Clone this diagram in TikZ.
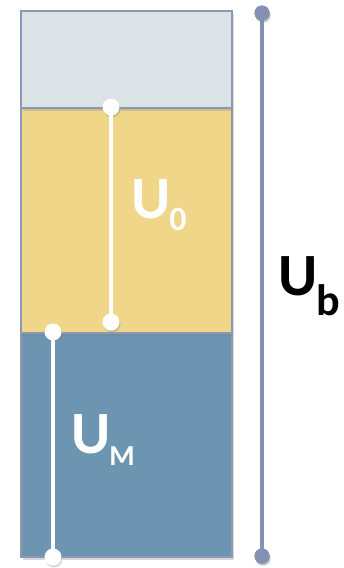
\documentclass[tikz,border=0pt]{standalone}
\usepackage{fontspec}
\setmainfont{Carlito}
\usetikzlibrary{shadows}
\definecolor{topfill}{RGB}{219,227,231}
\definecolor{midfill}{RGB}{240,214,137}
\definecolor{lowfill}{RGB}{109,149,178}
\definecolor{edge}{RGB}{140,152,182}
\definecolor{rail}{RGB}{132,145,180}
\tikzset{
  layer/.style={draw=edge, line width=1.2pt, inner sep=0pt, minimum width=211pt, drop shadow={shadow xshift=2pt, shadow yshift=-3pt, opacity=0.3}},
  wdot/.style={circle, fill=white, inner sep=0pt, minimum size=17pt, drop shadow={shadow xshift=1pt, shadow yshift=-2pt, opacity=0.3}},
  rdot/.style={circle, fill=rail, inner sep=0pt, minimum size=15pt, drop shadow={shadow xshift=1pt, shadow yshift=-2pt, opacity=0.3}},
  wline/.style={white, line width=3.5pt},
  rline/.style={rail, line width=3.5pt},
  lbl/.style={font=\bfseries, inner sep=0pt, anchor=base west}
}
\newcommand{\bigU}[3]{{\fontsize{60}{60}\selectfont U}\kern-1pt\raisebox{-#2pt}{\fontsize{#3}{#3}\selectfont #1}}
\begin{document}
\begin{tikzpicture}[x=1pt, y=-1pt]
  \useasboundingbox (0,0) rectangle (344,568);
  % stacked layers
  \node[layer, fill=lowfill, minimum height=224pt] (low) at (126.5,445) {};
  \node[layer, fill=midfill, minimum height=225pt] (mid) at (126.5,220.5) {};
  \node[layer, fill=topfill, minimum height=97pt] (top) at (126.5,59.5) {};
  % total span on the right
  \node[rdot] (bt) at (262,13) {};
  \node[rdot] (bb) at (262,556) {};
  \draw[rline] (bt.center) -- (bb.center);
  \node[rdot] at (bt) {};
  \node[rdot] at (bb) {};
  % U0 span
  \node[wdot] (zt) at (111,107) {};
  \node[wdot] (zb) at (111,322) {};
  \draw[wline] (zt.center) -- (zb.center);
  % UM span
  \node[wdot] (mt) at (53,332) {};
  \node[wdot] (mb) at (53,557) {};
  \draw[wline] (mt.center) -- (mb.center);
  % labels
  \node[lbl, text=white] (u0) at (131,218) {\bigU{0}{12}{34}};
  \node[lbl, text=white] (um) at (71,453) {\bigU{M}{12}{29}};
  \node[lbl, text=black] (ub) at (278,295) {\bigU{b}{20}{44}};
\end{tikzpicture}
\end{document}
